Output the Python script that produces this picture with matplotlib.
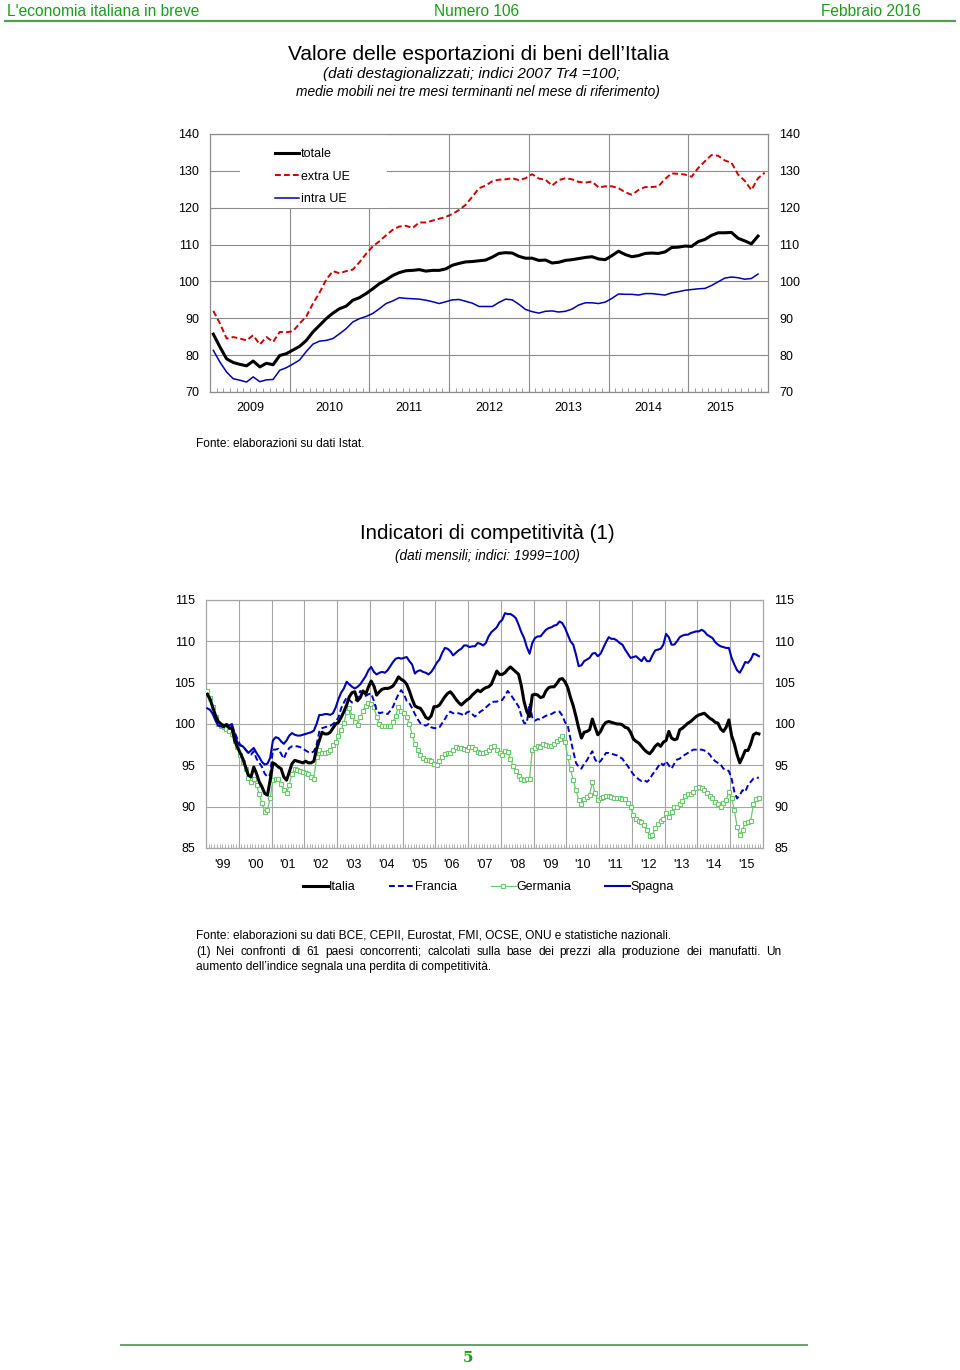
import numpy as np
import matplotlib
matplotlib.use("Agg")
import matplotlib.pyplot as plt
from matplotlib.patches import Rectangle
from matplotlib.lines import Line2D

plt.rcParams["font.family"] = ["Liberation Sans", "DejaVu Sans"]

W, H = 960, 1370
VERDE = "#1e9a1e"
GRIGIO = "#8c8c8c"

# ---------------- dati: esportazioni (mensili da gen 2009) ----------------
anni_exp = ["2009", "2010", "2011", "2012", "2013", "2014", "2015"]
totale = [
    85.7, 82.2, 79.0, 78.0, 77.5, 77.1, 78.4, 76.8, 77.8, 77.4, 79.9, 80.4,
    81.4, 82.4, 84.0, 86.3, 88.1, 89.9, 91.4, 92.6, 93.3, 94.9, 95.6, 96.7,
    98.0, 99.4, 100.4, 101.6, 102.4, 102.9, 103.0, 103.2, 102.8, 103.0, 103.0, 103.4,
    104.4, 104.9, 105.3, 105.4, 105.6, 105.8, 106.6, 107.6, 107.8, 107.7, 106.8, 106.3,
    106.3, 105.7, 105.8, 105.0, 105.2, 105.7, 105.9, 106.2, 106.5, 106.7, 106.1, 105.9,
    107.0, 108.2, 107.3, 106.7, 107.0, 107.6, 107.7, 107.6, 108.0, 109.2, 109.3, 109.6,
    109.5, 110.8, 111.4, 112.5, 113.2, 113.2, 113.3, 111.7, 111.0, 110.2, 112.3,
]
extra_ue = [
    92.0, 88.6, 84.5, 84.9, 84.5, 84.0, 85.4, 82.9, 84.9, 83.6, 86.3, 86.2,
    86.5, 88.6, 90.5, 94.0, 97.0, 100.5, 102.8, 102.2, 102.8, 103.2, 105.2, 107.5,
    109.5, 110.9, 112.5, 114.0, 114.9, 115.1, 114.5, 116.0, 116.0, 116.5, 117.0, 117.5,
    118.3, 119.4, 120.8, 123.0, 125.3, 126.0, 127.2, 127.6, 127.7, 128.0, 127.5, 128.0,
    129.1, 127.9, 127.6, 126.0, 127.5, 128.0, 127.7, 127.0, 126.8, 127.1, 125.5, 125.8,
    125.8, 125.3, 124.2, 123.5, 124.8, 125.6, 125.6, 125.8, 127.8, 129.3, 129.2, 129.0,
    128.4, 130.8, 132.6, 134.3, 134.1, 132.8, 132.2, 129.0, 127.3, 124.8, 128.0, 129.5,
]
intra_ue = [
    81.3, 78.1, 75.4, 73.6, 73.2, 72.7, 74.1, 72.8, 73.3, 73.4, 75.9, 76.6,
    77.6, 78.7, 81.0, 83.0, 83.8, 84.0, 84.5, 85.8, 87.2, 89.0, 89.9, 90.5,
    91.3, 92.6, 94.0, 94.7, 95.6, 95.4, 95.3, 95.2, 94.9, 94.5, 94.0, 94.5,
    95.0, 95.1, 94.6, 94.1, 93.2, 93.2, 93.2, 94.3, 95.2, 95.0, 93.8, 92.4,
    91.8, 91.4, 91.9, 92.0, 91.7, 91.9, 92.5, 93.6, 94.2, 94.2, 94.0, 94.4,
    95.4, 96.6, 96.5, 96.5, 96.3, 96.7, 96.7, 96.5, 96.3, 96.9, 97.2, 97.6,
    97.8, 98.0, 98.1, 98.9, 99.9, 100.9, 101.2, 101.0, 100.6, 100.8, 102.0,
]

# ---------------- dati: competitivita (mensili da gen 1999) ----------------
anni_comp = ["'99", "'00", "'01", "'02", "'03", "'04", "'05", "'06", "'07",
             "'08", "'09", "'10", "'11", "'12", "'13", "'14", "'15"]
italia = [
    103.6, 103.0, 102.0, 101.0, 100.3, 100.0, 99.8, 99.9, 99.5, 99.5, 98.0, 97.2,
    96.5, 95.8, 94.8, 93.8, 93.6, 94.8, 94.0, 93.0, 92.4, 91.6, 91.4, 93.2,
    95.3, 95.1, 94.8, 94.6, 93.6, 93.2, 94.2, 95.2, 95.6, 95.5, 95.4, 95.3,
    95.5, 95.3, 95.3, 95.5, 97.0, 98.0, 99.0, 98.8, 98.8, 99.0, 99.5, 100.0,
    100.2, 100.8, 101.5, 102.3, 103.3, 103.8, 103.9, 102.8, 103.2, 104.0, 103.6, 104.5,
    105.2, 104.6, 103.5, 103.9, 104.2, 104.3, 104.3, 104.4, 104.6, 105.1, 105.7, 105.4,
    105.2, 104.8, 104.0, 103.0, 102.2, 102.0, 101.9, 101.4, 100.8, 100.6, 101.0, 102.1,
    102.1, 102.3, 102.8, 103.3, 103.7, 103.9, 103.5, 103.0, 102.6, 102.3, 102.6, 102.9,
    103.1, 103.5, 103.8, 104.1, 103.9, 104.2, 104.4, 104.5, 104.8, 105.6, 106.4, 106.0,
    106.0, 106.2, 106.6, 106.9, 106.6, 106.3, 106.0, 104.6, 102.7, 101.5, 100.9, 103.5,
    103.6, 103.5, 103.2, 103.3, 104.0, 104.4, 104.5, 104.5, 104.9, 105.4, 105.5, 105.1,
    104.4, 103.2, 102.2, 100.9, 99.5, 98.3, 99.0, 99.1, 99.3, 100.6, 99.6, 98.7,
    99.1, 99.8, 100.2, 100.3, 100.2, 100.1, 100.0, 100.0, 99.9, 99.6, 99.5, 99.0,
    98.2, 97.9, 97.7, 97.3, 96.9, 96.6, 96.4, 96.8, 97.3, 97.6, 97.3, 97.8,
    98.0, 99.1, 98.3, 98.1, 98.2, 99.3, 99.5, 99.8, 100.1, 100.3, 100.6, 100.9,
    101.1, 101.2, 101.3, 101.0, 100.7, 100.5, 100.2, 100.1, 99.4, 99.1, 99.6, 100.5,
    98.6, 97.6, 96.3, 95.3, 96.0, 96.8, 96.8, 97.6, 98.7, 98.9, 98.8,
]
francia = [
    103.5, 103.0, 102.0, 101.0, 100.3, 100.0, 99.8, 99.9, 99.5, 99.7, 99.0, 98.2,
    97.5, 97.3, 96.9, 96.5, 96.3, 96.7, 95.8, 95.3, 94.8, 94.0, 93.6, 93.9,
    96.9, 96.9, 97.0, 96.4, 95.8, 96.6, 97.1, 97.3, 97.3, 97.3, 97.2, 97.0,
    96.8, 96.6, 96.5, 96.7, 97.5, 99.1, 99.5, 99.6, 99.7, 99.8, 100.0, 100.3,
    100.8, 101.9, 102.6, 103.2, 102.9, 102.6, 102.7, 103.2, 104.0, 103.7, 103.4, 103.6,
    103.7, 102.8, 101.6, 101.3, 101.4, 101.3, 101.2, 101.6, 102.1, 102.9, 103.6, 104.1,
    103.6, 102.8, 102.5, 101.9, 101.2, 100.6, 100.1, 99.9, 99.8, 100.0, 99.6, 99.5,
    99.5, 99.6, 100.1, 100.6, 101.2, 101.5, 101.3, 101.3, 101.3, 101.2, 101.0, 101.4,
    101.5, 101.2, 100.9, 101.2, 101.5, 101.7, 102.0, 102.3, 102.6, 102.7, 102.7, 102.9,
    102.9, 103.4, 104.0, 103.6, 103.1, 102.6, 102.1, 101.0, 100.1, 100.1, 102.5, 100.8,
    100.4, 100.6, 100.5, 100.8, 101.0, 101.1, 101.2, 101.4, 101.5, 101.5, 101.0, 100.2,
    99.8, 98.2, 96.7, 95.3, 94.8, 94.6, 95.2, 95.6, 96.2, 96.7, 95.7, 95.3,
    95.5, 96.0, 96.5, 96.5, 96.4, 96.3, 96.2, 96.0, 95.8, 95.3, 94.9, 94.4,
    93.9, 93.6, 93.3, 93.1, 93.2, 93.0, 93.3, 93.9, 94.3, 94.8, 95.3, 95.0,
    95.5, 95.0, 94.6, 95.2, 95.7, 95.8, 96.1, 96.3, 96.5, 96.7, 96.9, 96.9,
    96.9, 96.9, 96.8, 96.6, 96.3, 95.8, 95.5, 95.3, 95.1, 94.6, 94.5, 94.3,
    93.4, 91.8, 91.0, 91.4, 92.0, 91.8, 92.6, 93.0, 93.4, 93.5, 93.5,
]
germania = [
    104.0, 103.2, 102.0, 100.9, 100.0, 99.7, 99.6, 99.4, 99.2, 98.8, 98.0, 97.2,
    96.2, 95.4, 94.5, 93.5, 93.0, 93.3, 92.6, 91.5, 90.4, 89.4, 89.6, 91.0,
    93.2, 93.4, 93.3, 92.8, 92.0, 91.6, 92.6, 94.0, 94.6, 94.4, 94.3, 94.2,
    94.1, 93.9, 93.6, 93.4, 96.0, 96.9, 96.5, 96.5, 96.6, 96.9, 97.4, 97.8,
    98.5, 99.3, 100.1, 101.5, 101.9, 101.0, 100.3, 99.9, 100.8, 101.6, 102.2, 102.5,
    102.4, 102.0, 100.9, 100.0, 99.8, 99.8, 99.7, 99.8, 100.2, 101.0, 102.1, 101.6,
    101.3, 100.9, 100.0, 98.7, 97.6, 96.8, 96.2, 95.9, 95.7, 95.6, 95.5, 95.2,
    95.1, 95.5, 96.0, 96.4, 96.5, 96.5, 96.8, 97.2, 97.1, 97.1, 97.0, 96.8,
    97.2, 97.2, 97.0, 96.6, 96.5, 96.5, 96.6, 96.9, 97.2, 97.3, 96.9, 96.5,
    96.3, 96.7, 96.6, 95.8, 94.9, 94.3, 93.7, 93.4, 93.2, 93.3, 93.4, 96.9,
    97.1, 97.3, 97.2, 97.6, 97.4, 97.3, 97.3, 97.6, 97.9, 98.2, 98.5, 97.8,
    96.0, 94.5, 93.2, 92.0, 90.8, 90.3, 90.9, 91.2, 91.4, 93.0, 91.6, 90.8,
    91.0, 91.2, 91.3, 91.3, 91.2, 91.1, 91.1, 91.0, 90.9, 90.9, 90.5, 89.9,
    89.0, 88.5, 88.3, 88.1, 87.8, 87.2, 86.4, 86.6, 87.4, 87.9, 88.3, 88.5,
    89.2, 88.7, 89.3, 89.9, 90.0, 90.3, 90.7, 91.3, 91.5, 91.5, 91.8, 92.2,
    92.4, 92.2, 92.0, 91.6, 91.3, 91.0, 90.6, 90.3, 90.0, 90.5, 90.8, 91.8,
    91.0, 89.6, 87.6, 86.6, 87.2, 88.0, 88.2, 88.3, 90.3, 90.9, 91.0,
]
spagna = [
    101.9, 101.7, 101.2, 100.4, 99.8, 99.7, 99.6, 100.0, 99.8, 100.0, 98.8, 97.7,
    97.4, 97.3, 96.9, 96.5, 96.8, 97.1, 96.5, 96.0, 95.4, 95.1, 95.2, 95.9,
    98.0, 98.4, 98.3, 97.9, 97.6, 98.0, 98.6, 98.9, 98.7, 98.6, 98.6, 98.7,
    98.8, 98.9, 99.0, 99.2, 100.0, 101.1, 101.1, 101.2, 101.2, 101.1, 101.3, 102.0,
    103.0, 103.8, 104.3, 105.1, 104.8, 104.5, 104.3, 104.5, 104.8, 105.3, 105.8, 106.5,
    106.9, 106.3, 106.0, 106.2, 106.3, 106.2, 106.5, 107.0, 107.5, 107.9, 108.0, 107.9,
    108.0, 108.1, 107.6, 107.2, 106.1, 106.4, 106.5, 106.3, 106.2, 106.0, 106.3, 106.8,
    107.4, 107.8, 108.6, 109.2, 109.1, 108.8, 108.3, 108.6, 108.9, 109.1, 109.5, 109.5,
    109.3, 109.4, 109.4, 109.8, 109.7, 109.5, 109.8, 110.6, 111.1, 111.4, 111.7, 112.3,
    112.6, 113.4, 113.3, 113.3, 113.1, 112.8, 112.0, 111.1, 110.4, 109.3, 108.5, 109.8,
    110.4, 110.6, 110.6, 111.0, 111.4, 111.6, 111.7, 111.9, 112.0, 112.4, 112.2, 111.6,
    110.8, 110.0, 109.6, 108.4, 107.0, 107.1, 107.6, 107.8, 108.0, 108.5, 108.6, 108.2,
    108.5, 109.2, 109.9, 110.5, 110.3, 110.3, 110.1, 109.8, 109.6, 109.0, 108.5, 108.0,
    108.1, 108.2, 107.9, 107.6, 108.1, 107.6, 107.6, 108.3, 108.9, 109.0, 109.1, 109.6,
    110.9, 110.5, 109.6, 109.6, 110.0, 110.5, 110.7, 110.8, 110.8, 111.0, 111.1, 111.2,
    111.2, 111.4, 111.2, 110.8, 110.6, 110.4, 109.9, 109.6, 109.4, 109.3, 109.2, 109.2,
    108.0, 107.2, 106.5, 106.2, 106.8, 107.5, 107.4, 107.8, 108.5, 108.4, 108.2,
]


def fx(px):
    return px / W


def fy(py):
    return 1 - py / H


def mesi(anno0, n):
    return anno0 + (np.arange(n) + 0.5) / 12


def stile_assi(ax, anno0, anno1, labels, grid_col, lab_pad, pos_lab=None):
    ax.set_xlim(anno0, anno1)
    ax.set_axisbelow(True)
    ax.set_xticks(np.arange(anno0 + 1, anno1))
    ax.set_xticks(np.arange(anno0, anno1, 1 / 12), minor=True)
    ax.tick_params(axis="x", which="both", direction="in", length=3,
                   color=grid_col, labelbottom=False)
    ax.grid(True, which="major", color=grid_col, linewidth=0.8)
    ax.tick_params(axis="y", length=0, labelleft=True, labelright=True,
                   pad=8, labelsize=9)
    for s in ax.spines.values():
        s.set_color(grid_col)
        s.set_linewidth(0.9)
    sec = ax.secondary_xaxis("bottom")
    if pos_lab is None:
        pos_lab = np.arange(anno0, anno1) + 0.5
    sec.set_xticks(pos_lab)
    sec.set_xticklabels(labels, fontsize=9)
    sec.tick_params(length=0, pad=lab_pad)
    sec.spines["bottom"].set_visible(False)


def giustifica(fig, testo, x0, x1, y, size):
    # riga giustificata: parole distribuite fra x0 e x1 (pixel)
    parole = testo.split()
    objs = [fig.text(fx(x0), fy(y), p, fontsize=size, ha="left", va="center")
            for p in parole]
    r = fig.canvas.get_renderer()
    larg = [o.get_window_extent(r).width for o in objs]
    gap = ((x1 - x0) - sum(larg)) / (len(parole) - 1)
    x = x0
    for o, w in zip(objs, larg):
        o.set_x(fx(x))
        x += w + gap


fig = plt.figure(figsize=(W / 100, H / 100), dpi=100)

# intestazione
narrow = ["Liberation Sans Narrow", "Liberation Sans", "DejaVu Sans"]
fig.text(fx(7), fy(11), "L'economia italiana in breve", color=VERDE,
         fontsize=11.2, family=narrow, ha="left", va="center")
fig.text(fx(477), fy(11), "Numero 106", color=VERDE, fontsize=11.2,
         family=narrow, ha="center", va="center")
fig.text(fx(921), fy(11), "Febbraio 2016", color=VERDE, fontsize=11.2,
         family=narrow, ha="right", va="center")
fig.add_artist(Line2D([fx(5), fx(955)], [fy(21), fy(21)], color="#4f9f4f", lw=1.6))

# ---------------- grafico 1 ----------------
fig.text(fx(479), fy(55), "Valore delle esportazioni di beni dell\u2019Italia",
         fontsize=15, ha="center", va="center")
fig.text(fx(323), fy(74), "(dati destagionalizzati; indici 2007 Tr4 =100;",
         fontsize=11, style="italic", ha="left", va="center")
fig.text(fx(296), fy(92), "medie mobili nei tre mesi terminanti nel mese di riferimento)",
         fontsize=9.9, style="italic", ha="left", va="center")

ax1 = fig.add_axes([fx(210), fy(392), fx(558), 258 / H])
ax1.set_ylim(70, 140)
ax1.set_yticks(np.arange(70, 141, 10))
stile_assi(ax1, 2009, 2016, anni_exp, GRIGIO, 7,
           pos_lab=[2009.5, 2010.5, 2011.5, 2012.5, 2013.5, 2014.5, 2015.4])
ax1.add_patch(Rectangle((30 / 558, 184 / 258), 147 / 558, 74 / 258,
                        transform=ax1.transAxes, facecolor="white",
                        edgecolor="none", zorder=1))
l1, = ax1.plot(mesi(2009, len(totale)), totale, color="black", lw=2.2, zorder=3)
l2, = ax1.plot(mesi(2009, len(extra_ue)), extra_ue, color="#cc0000", lw=1.4,
               ls=(0, (3, 1.6)), zorder=3)
l3, = ax1.plot(mesi(2009, len(intra_ue)), intra_ue, color="#0000b0", lw=1.1, zorder=3)
ax1.legend([l1, l2, l3], ["totale", "extra UE", "intra UE"], loc="upper left",
           bbox_to_anchor=(65 / 558, 1 - 14 / 258), frameon=False, fontsize=9,
           handlelength=1.9, handletextpad=0.2, labelspacing=0.85,
           borderpad=0, borderaxespad=0)

fig.text(fx(196), fy(444), "Fonte: elaborazioni su dati Istat.", fontsize=8.6,
         ha="left", va="center")

# ---------------- grafico 2 ----------------
fig.text(fx(487), fy(534), "Indicatori di competitivit\u00e0 (1)", fontsize=14.8,
         ha="center", va="center")
fig.text(fx(487), fy(556), "(dati mensili; indici: 1999=100)", fontsize=9.8,
         style="italic", ha="center", va="center")

ax2 = fig.add_axes([fx(206), fy(848), fx(557), 248 / H])
ax2.set_ylim(85, 115)
ax2.set_yticks(np.arange(85, 116, 5))
stile_assi(ax2, 1999, 2016, anni_comp, "#a6a6a6", 8)
h_it, = ax2.plot(mesi(1999, len(italia)), italia, color="black", lw=2.2, zorder=5)
h_fr, = ax2.plot(mesi(1999, len(francia)), francia, color="#0000c8", lw=1.4,
                 ls=(0, (3, 1.6)), zorder=4)
h_de, = ax2.plot(mesi(1999, len(germania)), germania, color="#6cc86c", lw=0.9,
                 marker="s", markersize=3.4, markerfacecolor="white",
                 markeredgewidth=0.8, zorder=3)
h_es, = ax2.plot(mesi(1999, len(spagna)), spagna, color="#0000b4", lw=1.5, zorder=4)

fig.legend([h_it, h_fr, h_de, h_es], ["Italia", "Francia", "Germania", "Spagna"],
           loc="center left", bbox_to_anchor=(fx(303), fy(887)), ncol=4,
           frameon=False, fontsize=9, handlelength=2.0, handletextpad=0.05,
           columnspacing=2.7, borderpad=0, borderaxespad=0)

fig.text(fx(196), fy(935),
         "Fonte: elaborazioni su dati BCE, CEPII, Eurostat, FMI, OCSE, ONU e statistiche nazionali.",
         fontsize=8.6, ha="left", va="center")
giustifica(fig, "(1) Nei confronti di 61 paesi concorrenti; calcolati sulla base dei "
           "prezzi alla produzione dei manufatti. Un", 196, 781, 952, 8.6)
fig.text(fx(196), fy(967),
         "aumento dell\u2019indice segnala una perdita di competitivit\u00e0.",
         fontsize=8.6, ha="left", va="center")

# pie' di pagina
fig.add_artist(Line2D([fx(121), fx(807)], [fy(1345), fy(1345)], color="#6a9f6a", lw=1.4))
fig.text(fx(468), fy(1358), "5", color=VERDE, fontsize=11, fontweight="bold",
         family=["DejaVu Serif"], ha="center", va="center")

fig.savefig("out.png", dpi=100, facecolor="white")
